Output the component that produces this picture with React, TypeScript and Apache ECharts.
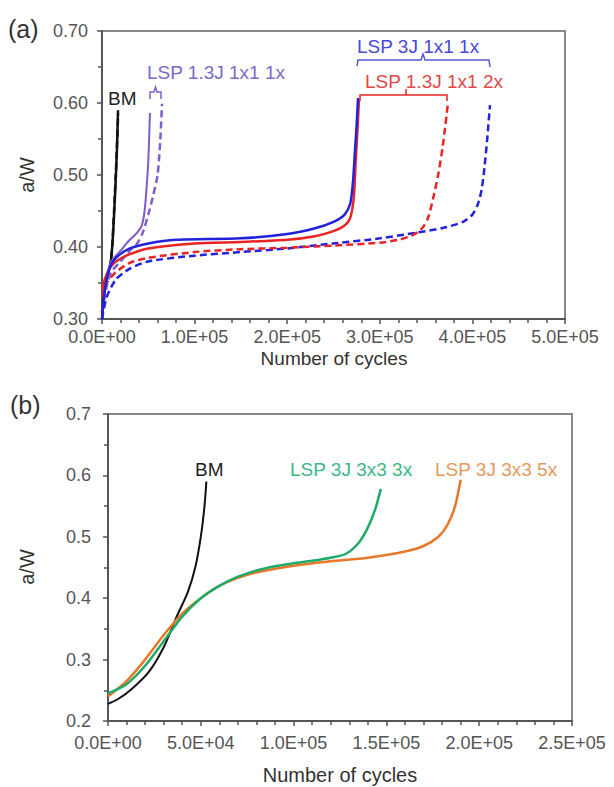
import React, { useEffect, useRef } from "react";
import * as echarts from "echarts";

// ---------- Panel (a): cycles vs a/W ----------
const aBmSolid = [[0, 0.30], [2000, 0.33], [5000, 0.355], [8000, 0.37], [10000, 0.385], [12000, 0.42], [14000, 0.47], [16000, 0.53], [17300, 0.59]];
const aBmDashed = [[0, 0.31], [3000, 0.34], [6000, 0.36], [9000, 0.375], [11000, 0.40], [13000, 0.45], [15500, 0.52], [17500, 0.585]];
const aP13Solid = [[0, 0.33], [5000, 0.36], [10000, 0.38], [20000, 0.395], [30000, 0.41], [38000, 0.42], [43000, 0.43], [46000, 0.45], [48000, 0.48], [50000, 0.52], [51800, 0.586]];
const aP13Dashed = [[0, 0.31], [5000, 0.345], [10000, 0.365], [20000, 0.38], [30000, 0.395], [38000, 0.405], [44000, 0.42], [50000, 0.445], [55000, 0.47], [60000, 0.50], [63000, 0.55], [64800, 0.599]];
const a3JSolid = [[0, 0.30], [3000, 0.34], [8000, 0.37], [15000, 0.385], [30000, 0.398], [50000, 0.405], [80000, 0.41], [150000, 0.412], [200000, 0.418], [230000, 0.426], [250000, 0.435], [262000, 0.445], [268000, 0.46], [271000, 0.49], [273000, 0.53], [275000, 0.57], [276500, 0.607]];
const a3JDashed = [[0, 0.30], [5000, 0.33], [15000, 0.355], [30000, 0.37], [50000, 0.38], [100000, 0.388], [150000, 0.393], [200000, 0.398], [250000, 0.405], [300000, 0.412], [340000, 0.42], [370000, 0.427], [390000, 0.435], [400000, 0.445], [406000, 0.46], [410000, 0.48], [413000, 0.51], [416000, 0.55], [419000, 0.597]];
const a13_2xSolid = [[0, 0.34], [3000, 0.355], [8000, 0.37], [15000, 0.38], [30000, 0.39], [50000, 0.398], [100000, 0.405], [150000, 0.407], [200000, 0.41], [230000, 0.415], [250000, 0.422], [262000, 0.43], [268000, 0.44], [272000, 0.47], [274000, 0.52], [276000, 0.565], [277500, 0.605]];
const a13_2xDashed = [[0, 0.33], [5000, 0.35], [15000, 0.365], [30000, 0.378], [50000, 0.385], [100000, 0.393], [150000, 0.397], [200000, 0.399], [250000, 0.402], [300000, 0.406], [320000, 0.41], [335000, 0.416], [345000, 0.425], [352000, 0.44], [358000, 0.47], [363000, 0.50], [368000, 0.54], [373600, 0.60]];

// ---------- Panel (b) ----------
const bBm = [[0, 0.228], [5000, 0.235], [12000, 0.25], [22000, 0.28], [30000, 0.32], [37000, 0.37], [43000, 0.41], [47000, 0.45], [50000, 0.50], [52000, 0.55], [53000, 0.59]];
const b3x = [[0, 0.245], [10000, 0.26], [20000, 0.29], [30000, 0.33], [40000, 0.37], [50000, 0.40], [60000, 0.42], [70000, 0.435], [80000, 0.445], [90000, 0.452], [100000, 0.457], [110000, 0.461], [120000, 0.466], [128000, 0.472], [135000, 0.49], [140000, 0.515], [144000, 0.545], [147000, 0.578]];
const b5x = [[0, 0.24], [10000, 0.265], [20000, 0.30], [30000, 0.34], [40000, 0.375], [50000, 0.40], [60000, 0.42], [70000, 0.433], [80000, 0.442], [90000, 0.448], [100000, 0.453], [120000, 0.46], [140000, 0.466], [160000, 0.476], [170000, 0.485], [178000, 0.50], [183000, 0.52], [187000, 0.55], [190000, 0.593]];

const FONT = "'Liberation Sans', Arial, sans-serif";
const TICK_COLOR = "#555";

function sci(v: number): string {
  if (v === 0) return "0.0E+00";
  const e = Math.floor(Math.log10(Math.abs(v)) + 1e-9);
  const m = v / Math.pow(10, e);
  return m.toFixed(1) + "E" + (e >= 0 ? "+" : "-") + String(Math.abs(e)).padStart(2, "0");
}

function line(name: string, data: number[][], idx: number, color: string, dashed: boolean, width = 2.5) {
  return {
    name,
    type: "line",
    xAxisIndex: idx,
    yAxisIndex: idx,
    data,
    showSymbol: false,
    smooth: 0.25,
    lineStyle: { color, width, type: dashed ? [7, 4] : "solid" },
  };
}

function txt(text: string, x: number, y: number, color: string, size = 19, align = "left", rotation = 0) {
  return {
    type: "text",
    x,
    y,
    rotation,
    style: { text, fill: color, font: `${size}px ${FONT}`, align, verticalAlign: "middle" },
  };
}

function poly(points: number[][], color: string) {
  return { type: "polyline", shape: { points }, style: { stroke: color, lineWidth: 1.5, fill: null } };
}

export default function App() {
  const ref = useRef<HTMLDivElement>(null);
  useEffect(() => {
    if (!ref.current) return;
    const chart = echarts.init(ref.current, undefined, { renderer: "svg" });
    const xBase = (max: number, interval: number, gi: number, margin: number) => ({
      type: "value",
      gridIndex: gi,
      min: 0,
      max,
      interval,
      axisLine: { show: true, lineStyle: { color: "#555", width: 2 } },
      axisTick: { show: true, length: 5, lineStyle: { color: "#555", width: 1.5 } },
      minorTick: { show: true, splitNumber: 5, length: 4, lineStyle: { color: "#555", width: 1.5 } },
      splitLine: { show: false },
      axisLabel: { formatter: sci, color: TICK_COLOR, fontSize: 18, fontFamily: FONT, margin },
    });
    const yBase = (min: number, max: number, gi: number, dec: number, margin: number) => ({
      type: "value",
      gridIndex: gi,
      min,
      max,
      interval: 0.1,
      axisLine: { show: true, lineStyle: { color: "#555", width: 2 } },
      axisTick: { show: true, length: 5, lineStyle: { color: "#555", width: 1.5 } },
      minorTick: { show: true, splitNumber: 2, length: 4, lineStyle: { color: "#555", width: 1.5 } },
      splitLine: { show: false },
      axisLabel: { formatter: (v: number) => v.toFixed(dec), color: TICK_COLOR, fontSize: 18, fontFamily: FONT, margin },
    });
    const purple = "#7E5DCB";
    const blue = "#2222DD";
    const red = "#E82424";
    const green = "#1FAA68";
    const orange = "#E8782A";
    chart.setOption({
      animation: false,
      backgroundColor: "#fff",
      grid: [
        { left: 102, top: 31, width: 463, height: 288, show: true, borderColor: "#888", borderWidth: 2, backgroundColor: "transparent" },
        { left: 108, top: 414, width: 464, height: 307, show: true, borderColor: "#888", borderWidth: 2, backgroundColor: "transparent" },
      ],
      xAxis: [xBase(500000, 100000, 0, 9), xBase(250000, 50000, 1, 13)],
      yAxis: [yBase(0.3, 0.7, 0, 2, 14), yBase(0.2, 0.7, 1, 1, 17)],
      series: [
        line("BM dashed", aBmDashed, 0, "#111", true),
        line("BM", aBmSolid, 0, "#111", false),
        line("LSP 1.3J 1x1 1x", aP13Solid, 0, purple, false, 2),
        line("LSP 1.3J 1x1 1x dashed", aP13Dashed, 0, purple, true),
        line("LSP 3J 1x1 1x dashed", a3JDashed, 0, blue, true),
        line("LSP 1.3J 1x1 2x dashed", a13_2xDashed, 0, red, true),
        line("LSP 1.3J 1x1 2x", a13_2xSolid, 0, red, false),
        line("LSP 3J 1x1 1x", a3JSolid, 0, blue, false),
        line("BM b", bBm, 1, "#111", false, 2),
        line("LSP 3J 3x3 5x", b5x, 1, orange, false, 2.5),
        line("LSP 3J 3x3 3x", b3x, 1, green, false, 2.5),
      ],
      graphic: [
        txt("(a)", 8, 29, "#333", 25),
        txt("(b)", 10, 405, "#333", 25),
        txt("a/W", 27, 175, "#333", 20, "center", Math.PI / 2),
        txt("a/W", 27, 567, "#333", 20, "center", Math.PI / 2),
        txt("Number of cycles", 334, 358, "#333", 19, "center"),
        txt("Number of cycles", 340, 775, "#333", 20, "center"),
        txt("BM", 108, 98, "#222", 19),
        txt("LSP 1.3J 1x1 1x", 147, 72, "#7A6AC8", 19),
        poly([[150, 99], [150, 92], [154, 92], [155.5, 87], [157, 92], [161, 92], [161, 99]], purple),
        txt("LSP 3J 1x1 1x", 357, 46, "#4848D8", 19),
        poly([[357, 66], [358, 60], [421, 60], [423, 54], [425, 60], [489, 60], [490, 67]], "#5555DD"),
        txt("LSP 1.3J 1x1 2x", 365, 81, "#E04848", 19),
        poly([[360, 101], [360, 95], [447, 95], [447, 101]], red),
        poly([[406, 95], [406, 89]], red),
        txt("BM", 195, 469, "#222", 19),
        txt("LSP 3J 3x3 3x", 290, 469, "#3DB888", 19),
        txt("LSP 3J 3x3 5x", 435, 469, "#E39A5A", 19),
      ],
    });
    return () => chart.dispose();
  }, []);
  return <div ref={ref} style={{ position: "absolute", left: 0, top: 0, width: 614, height: 787 }} />;
}
